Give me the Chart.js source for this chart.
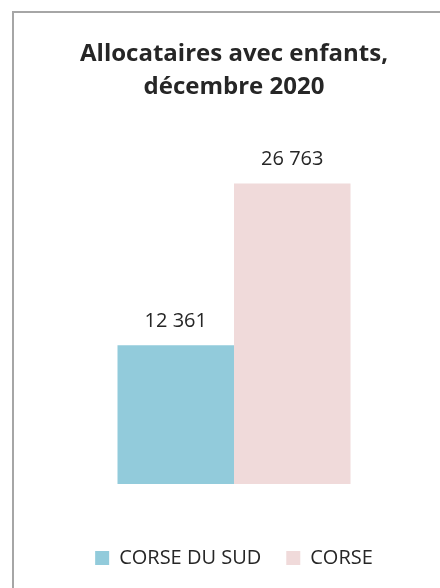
<!DOCTYPE html>
<html>
<head>
<meta charset="utf-8">
<script src="https://cdn.jsdelivr.net/npm/chart.js@4.4.1/dist/chart.umd.min.js"></script>
<style>
html,body{margin:0;padding:0;overflow:hidden;background:#fff;width:440px;height:588px;}
canvas{display:block;}
</style>
</head>
<body>
<canvas id="c" width="468" height="588"></canvas>
<script>
const categories = ['Décembre 2020'];
const seriesNames = ['CORSE DU SUD', 'CORSE'];
const corseDuSud = [12361];
const corse = [26763];
const titleLines = ['Allocataires avec enfants,', 'décembre 2020'];

const FONT = '"Open Sans"';
const fmt = v => String(v).replace(/\B(?=(\d{3})+(?!\d))/g, ' ');

const frame = {
  id: 'frame',
  beforeDraw(chart) {
    const ctx = chart.ctx;
    ctx.save();
    ctx.fillStyle = '#ffffff';
    ctx.fillRect(0, 0, chart.width, chart.height);
    ctx.strokeStyle = '#a6a6a6';
    ctx.lineWidth = 2;
    ctx.strokeRect(13, 12, 600, 800);
    ctx.restore();
  }
};

const dataLabels = {
  id: 'dataLabels',
  afterDatasetsDraw(chart) {
    const ctx = chart.ctx;
    ctx.save();
    ctx.font = '20px ' + FONT;
    ctx.fillStyle = '#262626';
    ctx.textAlign = 'center';
    ctx.textBaseline = 'middle';
    chart.data.datasets.forEach((ds, i) => {
      chart.getDatasetMeta(i).data.forEach((bar, j) => {
        ctx.fillText(fmt(ds.data[j]), bar.x, bar.y - 24);
      });
    });
    ctx.restore();
  }
};

new Chart(document.getElementById('c'), {
  type: 'bar',
  data: {
    labels: categories,
    datasets: [
      { label: seriesNames[0], data: corseDuSud, backgroundColor: '#92CBDB' },
      { label: seriesNames[1], data: corse, backgroundColor: '#F0DADA' }
    ]
  },
  options: {
    responsive: false,
    animation: false,
    layout: { padding: { left: 0, right: 0, top: 0, bottom: 10 } },
    datasets: { bar: { categoryPercentage: 233 / 468, barPercentage: 1 } },
    scales: {
      x: {
        display: true,
        grid: { display: false },
        border: { display: false },
        ticks: { display: false },
        afterFit: s => { s.height = 39; }
      },
      y: { display: false, min: 0, max: 30000 }
    },
    plugins: {
      title: {
        display: true,
        text: titleLines,
        color: '#262626',
        font: { family: FONT, size: 24, weight: 'bold', lineHeight: 1.36 },
        padding: { top: 38, bottom: 44 }
      },
      legend: {
        position: 'bottom',
        labels: {
          color: '#262626',
          font: { family: FONT, size: 20 },
          boxWidth: 14,
          boxHeight: 14,
          padding: 25
        }
      },
      tooltip: { enabled: false }
    }
  },
  plugins: [frame, dataLabels]
});
</script>
</body>
</html>
